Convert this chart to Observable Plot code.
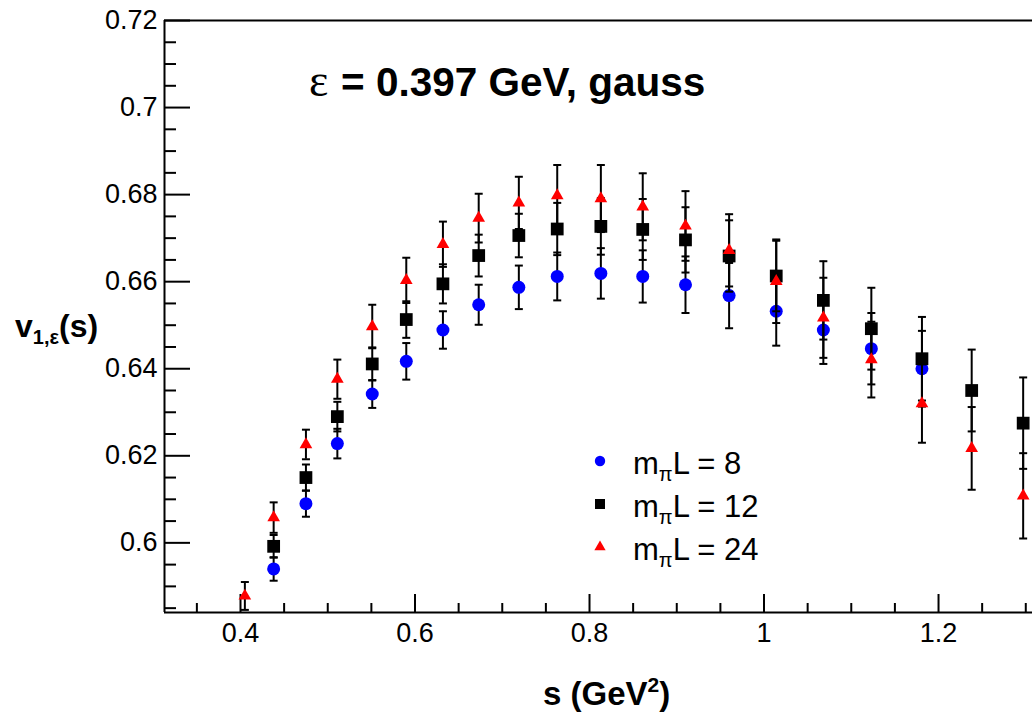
<!DOCTYPE html>
<html>
<head>
<meta charset="utf-8">
<script src="https://cdn.jsdelivr.net/npm/d3@7"></script>
<script src="https://cdn.jsdelivr.net/npm/@observablehq/plot@0.6"></script>
<style>
  html, body { margin: 0; padding: 0; background: #fff; }
  #chart { width: 1032px; height: 714px; overflow: hidden; }
</style>
</head>
<body>
<div id="chart"></div>
<script>
// ---------- data ----------
const titleText = "= 0.397 GeV, gauss";
const xDomain = [0.3129, 1.3077];
const yDomain = [0.584, 0.72];

const xMajor = [0.4, 0.6, 0.8, 1.0, 1.2];
const xTickLabels = ["0.4", "0.6", "0.8", "1", "1.2"];
const xMinor = [0.35, 0.45, 0.5, 0.55, 0.65, 0.7, 0.75, 0.85, 0.9, 0.95, 1.05, 1.1, 1.15, 1.25, 1.3];

const yMajor = [0.6, 0.62, 0.64, 0.66, 0.68, 0.7, 0.72];
const yTickLabels = ["0.6", "0.62", "0.64", "0.66", "0.68", "0.7", "0.72"];
const yMinor = [0.585, 0.59, 0.595, 0.605, 0.61, 0.615, 0.625, 0.63, 0.635, 0.645, 0.65, 0.655,
                0.665, 0.67, 0.675, 0.685, 0.69, 0.695, 0.705, 0.71, 0.715];

// m_pi L = 8 (blue circles)
const s8 = [0.438, 0.475, 0.511, 0.551, 0.590, 0.632, 0.673, 0.719, 0.763, 0.813, 0.861, 0.910, 0.960, 1.014, 1.068, 1.123, 1.181];
const v8 = [0.5940, 0.6090, 0.6228, 0.6342, 0.6417, 0.6489, 0.6547, 0.6587, 0.6612, 0.6619, 0.6612, 0.6593, 0.6568, 0.6532, 0.6489, 0.6446, 0.6400];
const e8 = [0.0027, 0.0030, 0.0034, 0.0032, 0.0042, 0.0043, 0.0046, 0.0050, 0.0055, 0.0058, 0.0060, 0.0065, 0.0075, 0.0079, 0.0078, 0.0082, 0.0087];

// m_pi L = 12 (black squares)
const s12 = [0.438, 0.475, 0.511, 0.551, 0.590, 0.632, 0.673, 0.719, 0.763, 0.813, 0.861, 0.910, 0.960, 1.014, 1.068, 1.123, 1.181, 1.238, 1.297];
const v12 = [0.5992, 0.6150, 0.6290, 0.6411, 0.6513, 0.6595, 0.6660, 0.6706, 0.6721, 0.6727, 0.6720, 0.6696, 0.6659, 0.6613, 0.6557, 0.6492, 0.6423, 0.6350, 0.6275];
const e12 = [0.0026, 0.0030, 0.0034, 0.0038, 0.0042, 0.0045, 0.0048, 0.0050, 0.0060, 0.0065, 0.0070, 0.0075, 0.0082, 0.0081, 0.0090, 0.0094, 0.0096, 0.0094, 0.0105];

// m_pi L = 24 (red triangles)
const s24 = [0.405, 0.438, 0.475, 0.511, 0.551, 0.590, 0.632, 0.673, 0.719, 0.763, 0.813, 0.861, 0.910, 0.960, 1.014, 1.068, 1.123, 1.181, 1.238, 1.297];
const v24 = [0.5878, 0.6058, 0.6226, 0.6376, 0.6497, 0.6603, 0.6686, 0.6746, 0.6781, 0.6798, 0.6791, 0.6772, 0.6728, 0.6672, 0.6601, 0.6517, 0.6421, 0.6320, 0.6217, 0.6108];
const e24 = [0.0032, 0.0035, 0.0034, 0.0045, 0.0050, 0.0052, 0.0052, 0.0056, 0.0060, 0.0070, 0.0077, 0.0077, 0.0080, 0.0083, 0.0096, 0.0092, 0.0087, 0.0090, 0.0095, 0.0098];

const seriesLabels = ["8", "12", "24"];
const seriesColors = ["#0000ff", "#000000", "#ff0000"];
const seriesSymbols = ["circle", "square", "triangle"];

// ---------- build ----------
const fontFamily = "'Liberation Sans', Arial, Helvetica, sans-serif";
const seriesData = [[s8, v8, e8], [s12, v12, e12], [s24, v24, e24]].map(([s, v, e]) =>
  s.map((x, i) => ({s: x, v: v[i], e: e[i]})));
const markerR = [6.5, 7.2, 4.7];

const capSymbol = { draw(ctx) { ctx.moveTo(-4, 0); ctx.lineTo(4, 0); } };

const xLabelMap = new Map(xMajor.map((d, i) => [d, xTickLabels[i]]));
const yLabelMap = new Map(yMajor.map((d, i) => [d, yTickLabels[i]]));

const marks = [
  Plot.ruleX([xDomain[0]], {stroke: "black", strokeWidth: 2}),
  Plot.ruleY([yDomain[0]], {stroke: "black", strokeWidth: 2}),
  Plot.ruleY([yDomain[1]], {stroke: "black", strokeWidth: 2}),
  Plot.axisX({ticks: xMinor, tickSize: -9, tickFormat: () => "", strokeWidth: 2, label: null}),
  Plot.axisX({ticks: xMajor, tickSize: -18, tickPadding: 28, tickFormat: d => xLabelMap.get(d), strokeWidth: 2, label: null}),
  Plot.axisY({ticks: yMinor, tickSize: -12, tickFormat: () => "", strokeWidth: 2, label: null}),
  Plot.axisY({ticks: yMajor, tickSize: -26, tickPadding: 33, tickFormat: d => yLabelMap.get(d), strokeWidth: 2, label: null})
];

seriesData.forEach((rows, k) => {
  marks.push(
    Plot.ruleX(rows, {x: "s", y1: d => d.v - d.e, y2: d => d.v + d.e, stroke: "black", strokeWidth: 2}),
    Plot.dot(rows, {x: "s", y: d => d.v + d.e, symbol: capSymbol, fill: "none", stroke: "black", strokeWidth: 2, r: 4}),
    Plot.dot(rows, {x: "s", y: d => d.v - d.e, symbol: capSymbol, fill: "none", stroke: "black", strokeWidth: 2, r: 4}),
    Plot.dot(rows, {x: "s", y: "v", symbol: seriesSymbols[k], fill: seriesColors[k], stroke: "none", r: markerR[k]})
  );
});

const plot = Plot.plot({
  width: 1032,
  height: 714,
  marginLeft: 164,
  marginRight: 0,
  marginTop: 20,
  marginBottom: 102,
  x: {domain: xDomain},
  y: {domain: yDomain},
  style: {fontFamily, fontSize: "27px", background: "white", color: "black", overflow: "visible"},
  marks
});
document.getElementById("chart").appendChild(plot);

// ---------- texts & legend ----------
const svg = d3.select(plot);
const layer = svg.append("g").attr("text-anchor", "start");

// title
const title = layer.append("text").attr("y", 96).attr("fill", "black").attr("text-anchor", "start")
  .style("font-family", fontFamily);
title.append("tspan").attr("x", 309).style("font-family", "'Liberation Serif', 'DejaVu Serif', serif")
  .style("font-size", "46px").text("ε");
title.append("tspan").attr("x", 341).style("font-weight", "bold").style("font-size", "40.5px").text(titleText);

// y label
const yl = layer.append("text").attr("x", 15).attr("y", 337).attr("fill", "black").attr("text-anchor", "start")
  .style("font-family", fontFamily).style("font-weight", "bold").style("font-size", "32px");
yl.append("tspan").text("v");
yl.append("tspan").attr("dy", 7).style("font-size", "20px").text("1,ε");
yl.append("tspan").attr("dy", -7).text("(s)");

// x label
const xl = layer.append("text").attr("x", 543).attr("y", 705).attr("fill", "black").attr("text-anchor", "start")
  .style("font-family", fontFamily).style("font-weight", "bold").style("font-size", "33px");
xl.append("tspan").text("s (GeV");
xl.append("tspan").attr("dy", -13).style("font-size", "21px").text("2");
xl.append("tspan").attr("dy", 13).text(")");

// legend
const legendY = [461, 504, 547];
const legendSym = [d3.symbolCircle, d3.symbolSquare, d3.symbolTriangle];
const legendSize = [85, 100, 55];
seriesLabels.forEach((lab, i) => {
  layer.append("path")
    .attr("transform", `translate(600,${legendY[i]})`)
    .attr("d", d3.symbol(legendSym[i], legendSize[i])())
    .attr("fill", seriesColors[i]);
  const t = layer.append("text").attr("x", 633).attr("y", legendY[i] + 13).attr("fill", "black")
    .attr("text-anchor", "start")
    .style("font-family", fontFamily).style("font-size", "31px");
  t.append("tspan").text("m");
  t.append("tspan").attr("dy", 7).style("font-size", "20px").text("π");
  t.append("tspan").attr("dy", -7).text("L = " + lab);
});
</script>
</body>
</html>
